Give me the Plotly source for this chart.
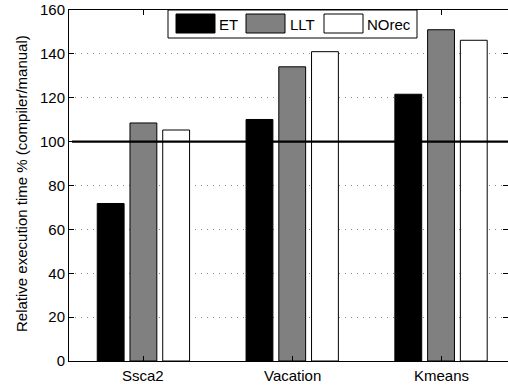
import plotly.graph_objects as go

categories = ["Ssca2", "Vacation", "Kmeans"]
series_names = ["ET", "LLT", "NOrec"]
et_values = [71.8, 110.1, 121.6]
llt_values = [108.5, 134.1, 151.0]
norec_values = [105.3, 141.0, 146.2]
y_ticks = [0, 20, 40, 60, 80, 100, 120, 140, 160]
reference_level = 100
y_title = "Relative execution time % (compiler/manual)"

fills = ["#000000", "#808080", "#ffffff"]
FONT = "Liberation Sans, Arial, sans-serif"

W, H = 508, 387
L, R, T, B = 69, 0, 10, 26
pw = W - L - R
ph = H - T - B


def px(x):
    return (x - L) / pw


def py(y):
    return (H - B - y) / ph


fig = go.Figure()
for name, vals, col in zip(series_names, [et_values, llt_values, norec_values], fills):
    fig.add_trace(go.Bar(
        x=categories, y=vals, name=name,
        marker=dict(color=col, line=dict(color="#000000", width=1)),
        showlegend=False, hoverinfo="skip",
    ))

# reference line at 100
fig.add_shape(type="line", xref="paper", yref="y",
              x0=px(72), x1=1, y0=reference_level, y1=reference_level,
              line=dict(color="#000000", width=2.2), layer="above")

# custom MATLAB-style legend
fig.add_shape(type="rect", xref="paper", yref="paper",
              x0=px(168), x1=px(417), y0=py(38), y1=py(10),
              line=dict(color="#000000", width=1), fillcolor="#ffffff", layer="above")
sw_x = [176, 246, 324]
tx_x = [218, 289, 366]
for name, col, sx, tx in zip(series_names, fills, sw_x, tx_x):
    fig.add_shape(type="rect", xref="paper", yref="paper",
                  x0=px(sx), x1=px(sx + 39), y0=py(33), y1=py(14),
                  line=dict(color="#000000", width=1), fillcolor=col, layer="above")
    fig.add_annotation(xref="paper", yref="paper", x=px(tx), y=py(24),
                       text=name, showarrow=False, xanchor="left", yanchor="middle",
                       borderpad=0,
                       font=dict(family=FONT, size=15, color="#000000"))

# category labels under the axis
for c in categories:
    fig.add_annotation(xref="x", yref="paper", x=c, y=0, yshift=-14.5,
                       text=c, showarrow=False, xanchor="center", yanchor="middle",
                       borderpad=0, font=dict(family=FONT, size=15, color="#000000"))

# rotated y-axis title
fig.add_annotation(xref="paper", yref="paper", x=px(21), y=py(184),
                   text=y_title, showarrow=False, textangle=-90,
                   xanchor="center", yanchor="middle", borderpad=0,
                   font=dict(family=FONT, size=15, color="#000000"))

fig.update_layout(
    width=W, height=H,
    margin=dict(l=L, r=R, t=T, b=B, pad=0),
    paper_bgcolor="#ffffff", plot_bgcolor="#ffffff",
    barmode="group", bargap=0.34, bargroupgap=0.18,
    font=dict(family=FONT, size=15, color="#000000"),
)
fig.update_xaxes(
    range=[-0.5, 2.45], showline=True, linecolor="#000000", linewidth=1, mirror="ticks",
    ticks="inside", ticklen=5, tickcolor="#000000", showgrid=False,
    showticklabels=False, automargin=False,
)
fig.update_yaxes(
    range=[0, 160], tickvals=y_ticks, showline=True, linecolor="#000000", linewidth=1,
    mirror="ticks", ticks="inside", ticklen=5, tickcolor="#000000",
    showgrid=True, gridcolor="#8a8a8a", griddash="1px,5px", gridwidth=1, zeroline=False,
    tickfont=dict(family=FONT, size=15), automargin=False,
)

fig.write_html(
    "out.html",
    config={"displayModeBar": False},
    post_script="document.body.style.margin='0';document.body.style.overflow='hidden';",
)
